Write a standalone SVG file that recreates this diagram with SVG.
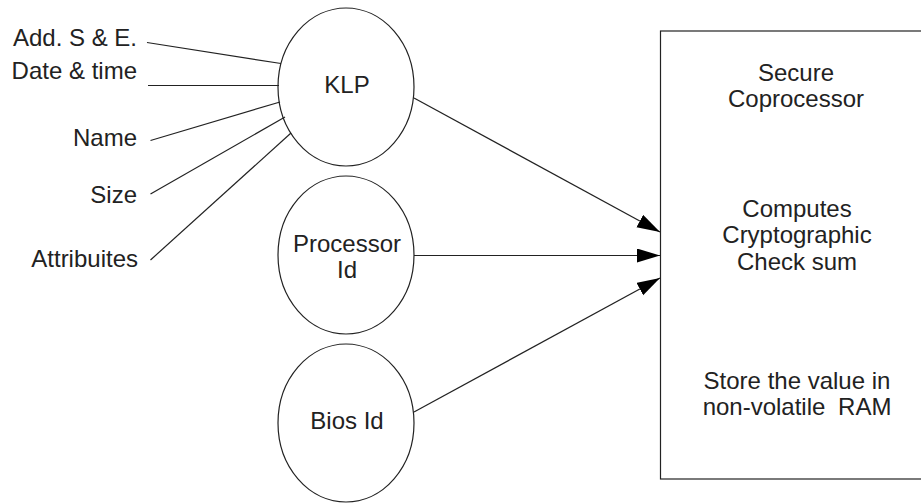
<svg xmlns="http://www.w3.org/2000/svg" width="921" height="503" viewBox="0 0 921 503">
  <style>
    .shape { fill: #fff; stroke: #222; stroke-width: 1.2; }
    .wire { fill: none; stroke: #222; stroke-width: 1.2; }
    .label { font-family: "Liberation Sans", Arial, sans-serif; font-size: 24px; fill: #222; }
    .mid { text-anchor: middle; }
    .end { text-anchor: end; }
  </style>
  <defs>
    <marker id="arrow" markerUnits="userSpaceOnUse" markerWidth="24" markerHeight="15" refX="23" refY="7" orient="auto">
      <path d="M0,0 L23,7 L0,14 z" fill="#000"/>
    </marker>
  </defs>

  <rect width="921" height="503" fill="#fff"/>

  <!-- input attributes feeding KLP -->
  <g id="in-add">
    <text class="label end" x="137" y="46">Add. S &amp; E.</text>
  </g>
  <g id="in-date">
    <text class="label end" x="137" y="79">Date &amp; time</text>
  </g>
  <g id="in-name">
    <text class="label end" x="137" y="146">Name</text>
  </g>
  <g id="in-size">
    <text class="label end" x="137" y="203">Size</text>
  </g>
  <g id="in-attr">
    <text class="label end" x="138" y="267">Attribuites</text>
  </g>

  <!-- source ellipses -->
  <g id="klp">
    <ellipse class="shape" cx="346" cy="87" rx="68" ry="79"/>
    <text class="label mid" x="347" y="93">KLP</text>
  </g>
  <g id="processor-id">
    <ellipse class="shape" cx="346" cy="255" rx="68" ry="79"/>
    <text class="label mid" x="347" y="252">Processor</text>
    <text class="label mid" x="347" y="278">Id</text>
  </g>
  <g id="bios-id">
    <ellipse class="shape" cx="346" cy="423" rx="68" ry="79"/>
    <text class="label mid" x="347" y="429">Bios Id</text>
  </g>

  <!-- coprocessor box -->
  <g id="coprocessor">
    <rect class="shape" x="660.5" y="31" width="300" height="448"/>
    <text class="label mid" x="796" y="81">Secure</text>
    <text class="label mid" x="796" y="107">Coprocessor</text>
    <text class="label mid" x="797" y="217">Computes</text>
    <text class="label mid" x="797" y="243">Cryptographic</text>
    <text class="label mid" x="797" y="270">Check sum</text>
    <text class="label mid" x="797" y="389">Store the value in</text>
    <text class="label mid" x="797" y="415">non-volatile<tspan dx="6"> RAM</tspan></text>
  </g>

  <!-- connectors -->
  <g id="connectors">
    <line class="wire" x1="147" y1="42.5" x2="281" y2="63.5"/>
    <line class="wire" x1="148" y1="85.5" x2="279" y2="85.5"/>
    <line class="wire" x1="150.5" y1="140.5" x2="280" y2="102"/>
    <line class="wire" x1="150.5" y1="194" x2="285" y2="117"/>
    <line class="wire" x1="150.5" y1="260" x2="291" y2="133"/>
    <line class="wire" x1="414" y1="98" x2="660" y2="232" marker-end="url(#arrow)"/>
    <line class="wire" x1="414" y1="255.5" x2="660" y2="255.5" marker-end="url(#arrow)"/>
    <line class="wire" x1="414" y1="412" x2="660" y2="278" marker-end="url(#arrow)"/>
  </g>
</svg>
